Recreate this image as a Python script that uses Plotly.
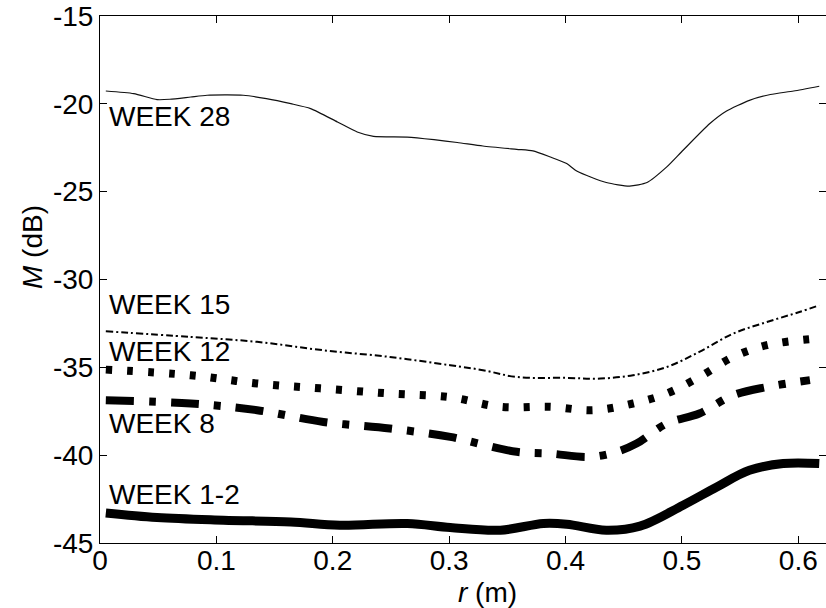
import plotly.graph_objects as go

# ---- data ----
r_w28 = [0.005, 0.029, 0.049, 0.060, 0.078, 0.092, 0.123, 0.143, 0.164, 0.181, 0.204, 0.221,
         0.235, 0.264, 0.287, 0.307, 0.329, 0.358, 0.372, 0.387, 0.401, 0.410, 0.435, 0.455,
         0.470, 0.487, 0.501, 0.524, 0.538, 0.558, 0.576, 0.596, 0.618]
m_w28 = [-19.27, -19.42, -19.76, -19.74, -19.61, -19.51, -19.51, -19.70, -19.99, -20.27, -21.03, -21.60,
         -21.85, -21.89, -22.04, -22.20, -22.40, -22.59, -22.68, -23.03, -23.40, -23.84, -24.48, -24.68,
         -24.48, -23.59, -22.64, -21.12, -20.42, -19.80, -19.47, -19.27, -19.00]

r_w15 = [0.005, 0.078, 0.135, 0.192, 0.249, 0.301, 0.329, 0.358, 0.401, 0.430, 0.458, 0.487,
         0.515, 0.544, 0.573, 0.601, 0.618]
m_w15 = [-32.95, -33.27, -33.55, -34.03, -34.41, -34.88, -35.16, -35.55, -35.60, -35.64, -35.45, -34.98,
         -34.12, -33.08, -32.42, -31.85, -31.47]

r_w12 = [0.005, 0.078, 0.135, 0.192, 0.249, 0.301, 0.344, 0.387, 0.424, 0.458, 0.487, 0.515,
         0.544, 0.573, 0.616]
m_w12 = [-35.13, -35.45, -35.92, -36.21, -36.49, -36.70, -37.25, -37.25, -37.44, -37.06, -36.49, -35.55,
         -34.41, -33.74, -33.36]

r_w8 = [0.005, 0.078, 0.135, 0.192, 0.249, 0.301, 0.329, 0.358, 0.387, 0.421, 0.444, 0.461,
        0.487, 0.515, 0.544, 0.573, 0.610]
m_w8 = [-36.87, -37.06, -37.44, -38.11, -38.48, -38.96, -39.40, -39.81, -39.91, -40.10, -39.81, -39.34,
        -38.20, -37.63, -36.59, -36.12, -35.73]

r_w1 = [0.005, 0.049, 0.106, 0.164, 0.206, 0.264, 0.301, 0.344, 0.381, 0.401, 0.435, 0.464,
        0.501, 0.530, 0.558, 0.587, 0.618]
m_w1 = [-43.29, -43.55, -43.70, -43.80, -43.99, -43.89, -44.12, -44.27, -43.89, -43.93, -44.27, -44.04,
        -42.85, -41.81, -40.86, -40.48, -40.48]

series_labels = ["WEEK 28", "WEEK 15", "WEEK 12", "WEEK 8", "WEEK 1-2"]
label_x = [0.006, 0.006, 0.006, 0.006, 0.006]
label_y = [-20.71, -31.45, -34.10, -38.20, -42.23]

x_tickvals = [0, 0.1, 0.2, 0.3, 0.4, 0.5, 0.6]
x_ticktext = ["0", "0.1", "0.2", "0.3", "0.4", "0.5", "0.6"]
y_tickvals = [-45, -40, -35, -30, -25, -20, -15]
y_ticktext = ["-45", "-40", "-35", "-30", "-25", "-20", "-15"]

FONT = "Arial, 'Liberation Sans', sans-serif"
FS = 28

fig = go.Figure()
fig.add_trace(go.Scatter(x=r_w28, y=m_w28, mode="lines", line_shape="spline",
                         line=dict(color="#111", width=1.2, smoothing=0.6)))
fig.add_trace(go.Scatter(x=r_w15, y=m_w15, mode="lines", line_shape="spline",
                         line=dict(color="black", width=2, dash="7px,3px,2px,3px")))
fig.add_trace(go.Scatter(x=r_w12, y=m_w12, mode="lines", line_shape="spline",
                         line=dict(color="black", width=8, dash="6px,15px")))
fig.add_trace(go.Scatter(x=r_w8, y=m_w8, mode="lines", line_shape="spline",
                         line=dict(color="black", width=8, dash="28px,15px,7px,15px")))
fig.add_trace(go.Scatter(x=r_w1, y=m_w1, mode="lines", line_shape="spline",
                         line=dict(color="black", width=9)))
# invisible trace to drive right-side ticks
fig.add_trace(go.Scatter(x=[0], y=[-30], yaxis="y2", mode="markers",
                         marker=dict(opacity=0), hoverinfo="skip"))

for t, xx, yy in zip(series_labels, label_x, label_y):
    fig.add_annotation(x=xx, y=yy, xref="x", yref="y", text=t, showarrow=False,
                       xanchor="left", yanchor="middle",
                       font=dict(family=FONT, size=FS, color="black"))

fig.add_annotation(x=(487 - 100) / 726, y=-(592 - 543) / 527, xref="paper", yref="paper",
                   text="<i>r</i> (m)", showarrow=False, xanchor="center", yanchor="middle",
                   font=dict(family=FONT, size=FS, color="black"))
fig.add_annotation(x=(32 - 100) / 726, y=(543 - 247) / 527, xref="paper", yref="paper",
                   text="<i>M</i> (dB)", showarrow=False, textangle=-90,
                   xanchor="center", yanchor="middle",
                   font=dict(family=FONT, size=FS, color="black"))

fig.update_layout(
    width=826, height=608, autosize=False,
    margin=dict(l=100, r=0, t=16, b=65),
    paper_bgcolor="white", plot_bgcolor="white",
    showlegend=False,
    font=dict(family=FONT, size=FS, color="black"),
    xaxis=dict(range=[0, 0.6238], tickvals=x_tickvals, ticktext=x_ticktext,
               ticks="inside", ticklen=7, tickcolor="black", tickwidth=1,
               showline=True, linecolor="black", linewidth=1, mirror="ticks",
               showgrid=False, zeroline=False, ticklabelstandoff=-8,
               tickfont=dict(family=FONT, size=FS, color="black")),
    yaxis=dict(range=[-45, -15], tickvals=y_tickvals, ticktext=y_ticktext,
               ticks="inside", ticklen=7, tickcolor="black", tickwidth=1,
               showline=True, linecolor="black", linewidth=1, mirror=False,
               showgrid=False, zeroline=False,
               tickfont=dict(family=FONT, size=FS, color="black")),
    yaxis2=dict(range=[-45, -15], tickvals=y_tickvals, overlaying="y", side="right",
                anchor="x", ticks="inside", ticklen=7, tickcolor="black", tickwidth=1,
                showticklabels=False, showline=False, showgrid=False, zeroline=False),
)

fig.write_html("out.html", config={"displayModeBar": False},
               post_script="document.body.style.margin='0';document.body.style.overflow='hidden';")
